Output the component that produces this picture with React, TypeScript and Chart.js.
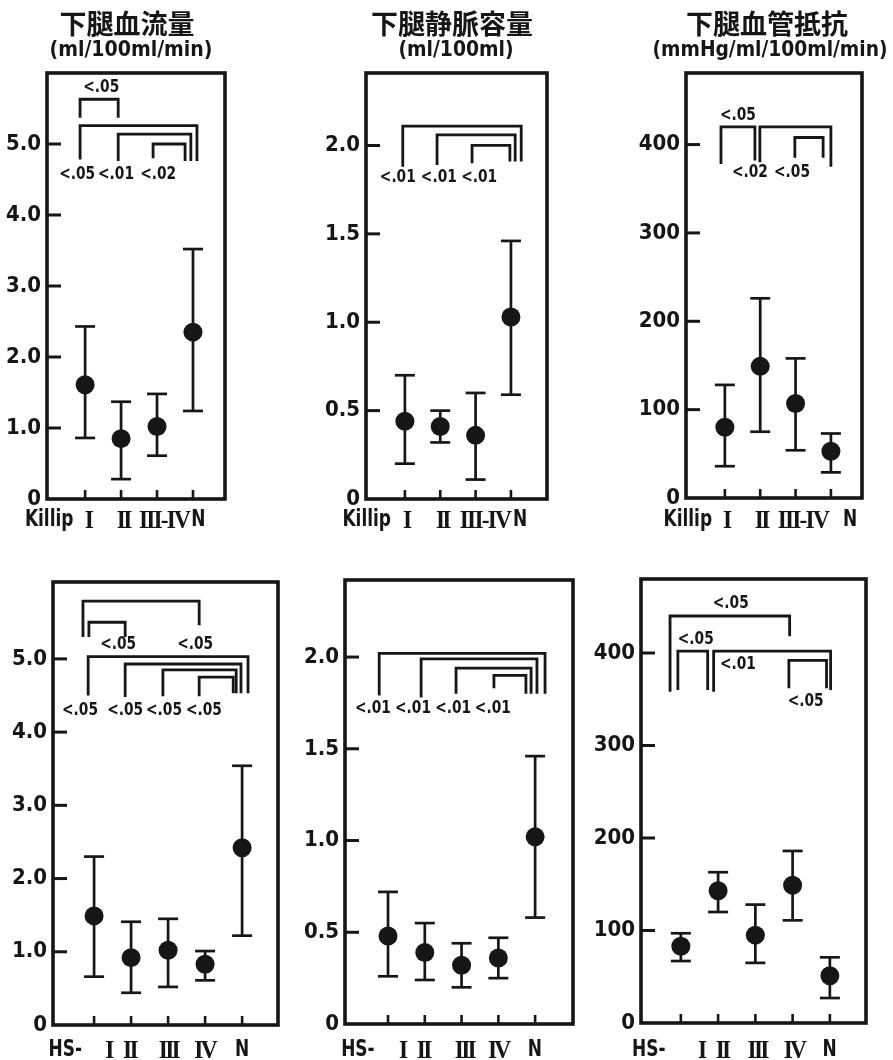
import React, { useEffect, useRef } from "react";
import { Chart, registerables } from "chart.js";

Chart.register(...registerables);

const INK = "#161616";
const NUM_FONT = "'DejaVu Sans Condensed', 'DejaVu Sans', sans-serif";
const CJK_FONT = "'Noto Sans CJK JP', 'Noto Sans CJK SC', sans-serif";
const SERIF_FONT = "'Liberation Serif', 'DejaVu Serif', serif";

// ---------- text ----------
const titleFlow = "下腿血流量";
const unitFlow = "(ml/100ml/min)";
const titleVol = "下腿静脈容量";
const unitVol = "(ml/100ml)";
const titleRes = "下腿血管抵抗";
const unitRes = "(mmHg/ml/100ml/min)";

const killipPrefix = "Killip";
const killipCats = ["I", "II", "III-IV", "N"];
const hsPrefix = "HS-";
const hsCats = ["I", "II", "III", "IV", "N"];

// ---------- ticks ----------
const flowTicks = [0, 1, 2, 3, 4, 5];
const flowTickLabels = ["0", "1.0", "2.0", "3.0", "4.0", "5.0"];
const volTicks = [0, 0.5, 1, 1.5, 2];
const volTickLabels = ["0", "0.5", "1.0", "1.5", "2.0"];
const resTicks = [0, 100, 200, 300, 400];
const resTickLabels = ["0", "100", "200", "300", "400"];

// ---------- data (mean, upper, lower) ----------
const flowKillipMean = [1.61, 0.85, 1.02, 2.35];
const flowKillipHigh = [2.43, 1.37, 1.48, 3.52];
const flowKillipLow = [0.86, 0.28, 0.61, 1.24];

const volKillipMean = [0.44, 0.41, 0.36, 1.03];
const volKillipHigh = [0.7, 0.5, 0.6, 1.46];
const volKillipLow = [0.2, 0.32, 0.11, 0.59];

const resKillipMean = [80, 149, 107, 53];
const resKillipHigh = [128, 226, 158, 73];
const resKillipLow = [36, 75, 54, 29];

const flowHsMean = [1.49, 0.92, 1.02, 0.83, 2.42];
const flowHsHigh = [2.3, 1.41, 1.45, 1.01, 3.54];
const flowHsLow = [0.66, 0.44, 0.52, 0.61, 1.22];

const volHsMean = [0.48, 0.39, 0.32, 0.36, 1.02];
const volHsHigh = [0.72, 0.55, 0.44, 0.47, 1.46];
const volHsLow = [0.26, 0.24, 0.2, 0.25, 0.58];

const resHsMean = [83, 143, 95, 149, 51];
const resHsHigh = [97, 163, 128, 186, 71];
const resHsLow = [67, 120, 65, 111, 27];

// ---------- significance labels ----------
const flowKillipP = ["<.05", "<.05", "<.01", "<.02"];
const volKillipP = ["<.01", "<.01", "<.01"];
const resKillipP = ["<.05", "<.02", "<.05"];
const flowHsP = ["<.05", "<.05", "<.05", "<.05", "<.05", "<.05"];
const volHsP = ["<.01", "<.01", "<.01", "<.01"];
const resHsP = ["<.05", "<.05", "<.01", "<.05"];

type Bracket = { x1: number; x2: number; top: number; end1: number; end2: number };
type Spot = { x: number; y: number };
type Panel = {
  id: string;
  cx: number; cy: number; cw: number; ch: number;
  L: number; R: number; T: number; B: number;
  xmin: number; xmax: number; ymax: number;
  ticks: number[]; tickLabels: string[];
  mean: number[]; high: number[]; low: number[];
  prefix: string; cats: string[];
  prefixX: number; catX: number[]; labelY: number;
  brackets: Bracket[];
  pTexts: string[]; pSpots: Spot[];
  title?: string; unit?: string;
  titleX?: number; unitX?: number; unitW?: number;
};

const panels: Panel[] = [
  {
    id: "p1", cx: 0, cy: 0, cw: 298, ch: 540,
    L: 47, R: 225, T: 73, B: 499, xmin: -1.06, xmax: 3.89, ymax: 6.0,
    ticks: flowTicks, tickLabels: flowTickLabels,
    mean: flowKillipMean, high: flowKillipHigh, low: flowKillipLow,
    prefix: killipPrefix, cats: killipCats, prefixX: -1.0, catX: [0.04, 1.02, 2.17, 3.15], labelY: 520,
    brackets: [
      { x1: -0.14, x2: 0.92, top: 5.63, end1: 5.37, end2: 5.37 },
      { x1: -0.14, x2: 3.11, top: 5.26, end1: 4.78, end2: 4.76 },
      { x1: 0.92, x2: 2.94, top: 5.14, end1: 4.76, end2: 4.76 },
      { x1: 1.89, x2: 2.78, top: 5.0, end1: 4.8, end2: 4.76 },
    ],
    pTexts: flowKillipP,
    pSpots: [{ x: 0.45, y: 5.8 }, { x: -0.22, y: 4.57 }, { x: 0.86, y: 4.57 }, { x: 2.03, y: 4.57 }],
    title: titleFlow, unit: unitFlow, titleX: 127, unitX: 131, unitW: 163,
  },
  {
    id: "p2", cx: 298, cy: 0, cw: 298, ch: 540,
    L: 366, R: 547, T: 73, B: 499, xmin: -1.1, xmax: 4.02, ymax: 2.41,
    ticks: volTicks, tickLabels: volTickLabels,
    mean: volKillipMean, high: volKillipHigh, low: volKillipLow,
    prefix: killipPrefix, cats: killipCats, prefixX: -1.08, catX: [0, 1.02, 2.24, 3.26], labelY: 520,
    brackets: [
      { x1: -0.06, x2: 3.29, top: 2.11, end1: 1.88, end2: 1.91 },
      { x1: 0.91, x2: 3.12, top: 2.06, end1: 1.89, end2: 1.91 },
      { x1: 1.9, x2: 2.97, top: 2.0, end1: 1.9, end2: 1.91 },
    ],
    pTexts: volKillipP,
    pSpots: [{ x: -0.2, y: 1.82 }, { x: 0.96, y: 1.82 }, { x: 2.1, y: 1.82 }],
    title: titleVol, unit: unitVol, titleX: 452, unitX: 456, unitW: 115,
  },
  {
    id: "p3", cx: 590, cy: 0, cw: 303, ch: 540,
    L: 686, R: 862, T: 73, B: 498, xmin: -1.1, xmax: 3.88, ymax: 481,
    ticks: resTicks, tickLabels: resTickLabels,
    mean: resKillipMean, high: resKillipHigh, low: resKillipLow,
    prefix: killipPrefix, cats: killipCats, prefixX: -1.05, catX: [0, 0.99, 2.18, 3.54], labelY: 520,
    brackets: [
      { x1: -0.11, x2: 0.85, top: 420, end1: 378, end2: 382 },
      { x1: 0.99, x2: 3.0, top: 420, end1: 380, end2: 375 },
      { x1: 1.98, x2: 2.78, top: 408, end1: 385, end2: 385 },
    ],
    pTexts: resKillipP,
    pSpots: [{ x: 0.37, y: 433 }, { x: 0.71, y: 368 }, { x: 1.9, y: 368 }],
    title: titleRes, unit: unitRes, titleX: 767, unitX: 770, unitW: 235,
  },
  {
    id: "p4", cx: 0, cy: 540, cw: 298, ch: 520,
    L: 53, R: 278, T: 582, B: 1025, xmin: -1.11, xmax: 4.97, ymax: 6.05,
    ticks: flowTicks, tickLabels: flowTickLabels,
    mean: flowHsMean, high: flowHsHigh, low: flowHsLow,
    prefix: hsPrefix, cats: hsCats, prefixX: -0.78, catX: [0.35, 0.92, 1.97, 2.95, 4.0], labelY: 1050,
    brackets: [
      { x1: -0.3, x2: 2.84, top: 5.79, end1: 5.3, end2: 5.46 },
      { x1: -0.14, x2: 0.84, top: 5.5, end1: 5.3, end2: 5.3 },
      { x1: -0.16, x2: 4.16, top: 5.03, end1: 4.5, end2: 4.53 },
      { x1: 0.84, x2: 3.97, top: 4.93, end1: 4.48, end2: 4.53 },
      { x1: 1.86, x2: 3.84, top: 4.85, end1: 4.49, end2: 4.53 },
      { x1: 2.84, x2: 3.76, top: 4.75, end1: 4.49, end2: 4.53 },
    ],
    pTexts: flowHsP,
    pSpots: [
      { x: 2.73, y: 5.19 }, { x: 0.65, y: 5.19 },
      { x: -0.38, y: 4.3 }, { x: 0.84, y: 4.3 }, { x: 1.89, y: 4.3 }, { x: 2.97, y: 4.3 },
    ],
  },
  {
    id: "p5", cx: 298, cy: 540, cw: 298, ch: 520,
    L: 345, R: 573, T: 580, B: 1024, xmin: -1.17, xmax: 5.03, ymax: 2.42,
    ticks: volTicks, tickLabels: volTickLabels,
    mean: volHsMean, high: volHsHigh, low: volHsLow,
    prefix: hsPrefix, cats: hsCats, prefixX: -0.82, catX: [0.35, 0.92, 2.04, 2.96, 3.99], labelY: 1050,
    brackets: [
      { x1: -0.24, x2: 4.27, top: 2.02, end1: 1.79, end2: 1.8 },
      { x1: 0.9, x2: 4.05, top: 1.99, end1: 1.78, end2: 1.8 },
      { x1: 1.85, x2: 3.89, top: 1.94, end1: 1.8, end2: 1.8 },
      { x1: 2.88, x2: 3.75, top: 1.9, end1: 1.83, end2: 1.8 },
    ],
    pTexts: volHsP,
    pSpots: [{ x: -0.41, y: 1.72 }, { x: 0.68, y: 1.72 }, { x: 1.77, y: 1.72 }, { x: 2.85, y: 1.72 }],
  },
  {
    id: "p6", cx: 590, cy: 540, cw: 303, ch: 520,
    L: 641, R: 866, T: 579, B: 1023, xmin: -1.07, xmax: 4.97, ymax: 480,
    ticks: resTicks, tickLabels: resTickLabels,
    mean: resHsMean, high: resHsHigh, low: resHsLow,
    prefix: hsPrefix, cats: hsCats, prefixX: -0.86, catX: [0.51, 1.07, 2.01, 3.0, 3.99], labelY: 1050,
    brackets: [
      { x1: -0.29, x2: 2.92, top: 440, end1: 358, end2: 418 },
      { x1: -0.08, x2: 0.72, top: 402, end1: 360, end2: 360 },
      { x1: 0.88, x2: 4.02, top: 402, end1: 358, end2: 360 },
      { x1: 2.9, x2: 3.91, top: 392, end1: 362, end2: 362 },
    ],
    pTexts: resHsP,
    pSpots: [{ x: 1.34, y: 453 }, { x: 0.4, y: 414 }, { x: 1.53, y: 388 }, { x: 3.35, y: 347 }],
  },
];

function drawScaled(ctx: CanvasRenderingContext2D, text: string, x: number, y: number, sx: number, spacing = 0) {
  ctx.save();
  ctx.translate(x, y);
  ctx.scale(sx, 1);
  const anyCtx = ctx as any;
  if (spacing && "letterSpacing" in anyCtx) {
    anyCtx.letterSpacing = spacing + "px";
    ctx.textAlign = "left";
    const w = ctx.measureText(text).width;
    ctx.fillText(text, -(w + spacing) / 2, 0);
  } else {
    ctx.fillText(text, 0, 0);
  }
  ctx.restore();
}

function makePlugin(p: Panel) {
  return {
    id: "panelDeco" + p.id,
    afterDraw(chart: any) {
      const ctx: CanvasRenderingContext2D = chart.ctx;
      const { left, right, top, bottom } = chart.chartArea;
      const xs = chart.scales.x;
      const ys = chart.scales.y;
      ctx.save();
      ctx.strokeStyle = INK;
      ctx.fillStyle = INK;
      ctx.lineCap = "butt";
      // frame
      ctx.lineWidth = 3.6;
      ctx.strokeRect(left, top, right - left, bottom - top);
      // inward y ticks
      ctx.lineWidth = 3;
      for (const t of ys.ticks) {
        if (t.value === 0) continue;
        const y = ys.getPixelForValue(t.value);
        ctx.beginPath();
        ctx.moveTo(left, y);
        ctx.lineTo(left + 14, y);
        ctx.stroke();
      }
      // inward x ticks
      ctx.lineWidth = 2.6;
      p.mean.forEach((_, i) => {
        const x = xs.getPixelForValue(i);
        ctx.beginPath();
        ctx.moveTo(x, bottom);
        ctx.lineTo(x, bottom - 9);
        ctx.stroke();
      });
      // p-value notes
      ctx.textAlign = "center";
      ctx.textBaseline = "middle";
      ctx.font = `bold 17px ${NUM_FONT}`;
      p.pTexts.forEach((t, i) => {
        const s = p.pSpots[i];
        drawScaled(ctx, t, xs.getPixelForValue(s.x), ys.getPixelForValue(s.y), 0.9);
      });
      // category labels
      const ly = p.labelY - p.cy;
      ctx.font = `bold 23px ${NUM_FONT}`;
      drawScaled(ctx, p.prefix, xs.getPixelForValue(p.prefixX), ly, 0.82);
      p.cats.forEach((c, i) => {
        const x = xs.getPixelForValue(p.catX[i]);
        if (c === "N") {
          ctx.font = `bold 23px ${NUM_FONT}`;
          drawScaled(ctx, c, x, ly, 0.82);
        } else {
          ctx.font = `bold 26px ${SERIF_FONT}`;
          drawScaled(ctx, c, x, ly + 1, 0.9, c.includes("-") ? -2 : -3);
        }
      });
      // titles
      if (p.title) {
        ctx.font = `bold 27px ${CJK_FONT}`;
        ctx.fillText(p.title, (p.titleX as number) - p.cx, 24 - p.cy);
        ctx.font = `bold 21px ${NUM_FONT}`;
        const w = ctx.measureText(p.unit as string).width;
        drawScaled(ctx, p.unit as string, (p.unitX as number) - p.cx, 51 - p.cy, (p.unitW as number) / w);
      }
      ctx.restore();
    },
  };
}

function makeConfig(p: Panel): any {
  const errData: any[] = [];
  p.mean.forEach((_, i) => {
    errData.push({ x: i, y: p.low[i] }, { x: i, y: p.high[i] }, { x: i, y: null });
  });
  const datasets: any[] = [
    {
      label: "mean",
      data: p.mean.map((m, i) => ({ x: i, y: m })),
      showLine: false,
      pointRadius: 9.5,
      pointBackgroundColor: INK,
      pointBorderWidth: 0,
      order: 0,
    },
    {
      label: "sd",
      data: errData,
      showLine: true,
      spanGaps: false,
      borderColor: INK,
      borderWidth: 2.7,
      pointStyle: "line",
      pointRadius: 10,
      pointBorderWidth: 2.7,
      pointBorderColor: INK,
      order: 1,
    },
    ...p.brackets.map((b, k) => ({
      label: "b" + k,
      data: [
        { x: b.x1, y: b.end1 },
        { x: b.x1, y: b.top },
        { x: b.x2, y: b.top },
        { x: b.x2, y: b.end2 },
      ],
      showLine: true,
      borderColor: INK,
      borderWidth: 2.8,
      borderJoinStyle: "miter",
      pointRadius: 0,
      tension: 0,
      order: 2,
    })),
  ];
  const yW = p.L - p.cx;
  return {
    type: "line",
    data: { datasets },
    options: {
      responsive: false,
      animation: false,
      devicePixelRatio: 1,
      events: [],
      layout: {
        padding: { left: 0, top: p.T - p.cy, right: p.cx + p.cw - p.R, bottom: p.cy + p.ch - p.B },
      },
      plugins: { legend: { display: false }, tooltip: { enabled: false } },
      scales: {
        x: { type: "linear", display: false, min: p.xmin, max: p.xmax },
        y: {
          type: "linear",
          min: 0,
          max: p.ymax,
          afterBuildTicks: (s: any) => {
            s.ticks = p.ticks.map((v) => ({ value: v }));
          },
          afterFit: (s: any) => {
            s.width = yW;
          },
          grid: { display: false, drawTicks: false },
          border: { display: false },
          ticks: {
            padding: 6,
            color: INK,
            font: { family: NUM_FONT, size: 22, weight: "bold" },
            callback: (v: number) => {
              const k = p.ticks.indexOf(v);
              return k >= 0 ? p.tickLabels[k] : "";
            },
          },
        },
      },
    },
    plugins: [makePlugin(p)],
  };
}

function PanelChart({ p }: { p: Panel }) {
  const ref = useRef<HTMLCanvasElement>(null);
  useEffect(() => {
    let chart: Chart | null = null;
    let dead = false;
    const start = () => {
      if (dead || !ref.current) return;
      chart = new Chart(ref.current, makeConfig(p));
    };
    const fonts: any = (document as any).fonts;
    if (fonts && fonts.load) {
      Promise.all([
        fonts.load(`bold 27px 'Noto Sans CJK JP'`, "下腿血流量"),
        fonts.load(`bold 22px 'DejaVu Sans Condensed'`, "0123"),
        fonts.load(`bold 26px 'Liberation Serif'`, "IV"),
      ]).then(start, start);
    } else start();
    return () => {
      dead = true;
      if (chart) chart.destroy();
    };
  }, [p]);
  return (
    <canvas
      ref={ref}
      width={p.cw}
      height={p.ch}
      style={{ position: "absolute", left: p.cx, top: p.cy, width: p.cw, height: p.ch }}
    />
  );
}

export default function App() {
  return (
    <div style={{ position: "absolute", left: 0, top: 0, width: 893, height: 1060, background: "#fff", overflow: "hidden" }}>
      {panels.map((p) => (
        <PanelChart key={p.id} p={p} />
      ))}
    </div>
  );
}
